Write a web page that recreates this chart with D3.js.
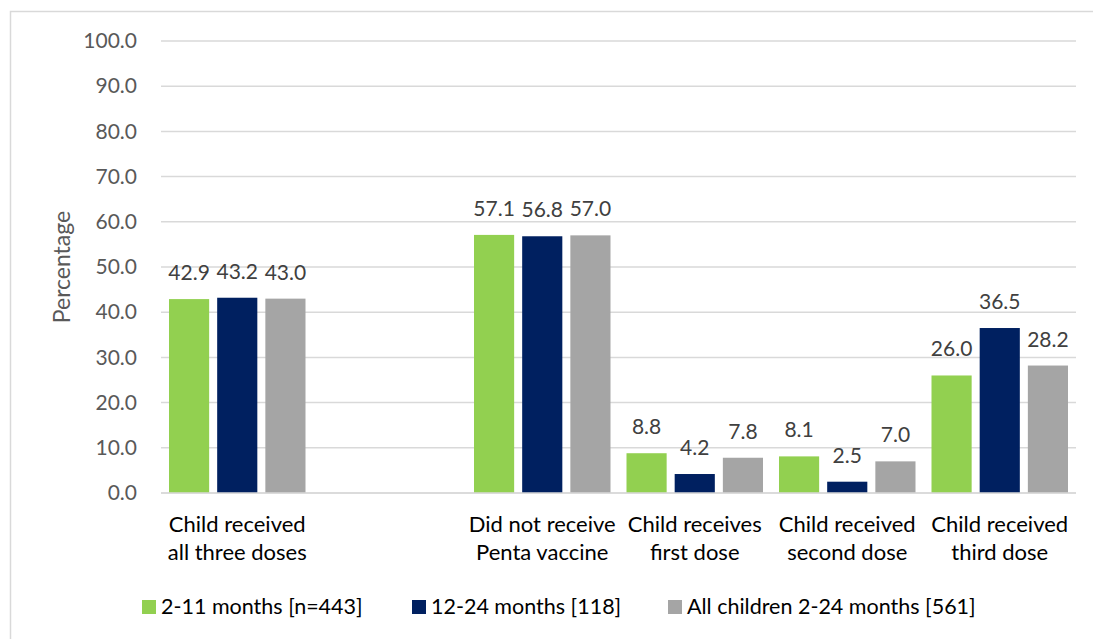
<!DOCTYPE html>
<html>
<head>
<meta charset="utf-8">
<script src="https://cdn.jsdelivr.net/npm/d3@7"></script>
<style>
  body { margin: 0; background: #fff; }
  svg { display: block; font-family: Lato, "Open Sans", sans-serif; }
</style>
</head>
<body>
<div id="chart"></div>
<script>
"use strict";

// categories (second slot is an empty spacer, as in the original)
var categories = [
    ["Child received", "all three doses"],
    ["", ""],
    ["Did not receive", "Penta vaccine"],
    ["Child receives", "first dose"],
    ["Child received", "second dose"],
    ["Child received", "third dose"]
];

var seriesNames = ["2-11 months [n=443]", "12-24 months [118]", "All children 2-24 months [561]"];
var seriesColors = ["#92d050", "#002060", "#a5a5a5"];

// values per series, null where the slot is empty
var months2to11 = [42.9, null, 57.1, 8.8, 8.1, 26.0];
var months12to24 = [43.2, null, 56.8, 4.2, 2.5, 36.5];
var allChildren = [43.0, null, 57.0, 7.8, 7.0, 28.2];

var yTicks = [0, 10, 20, 30, 40, 50, 60, 70, 80, 90, 100];

var width = 1093, height = 639;
var plot = { left: 161, right: 1076, top: 41, bottom: 493 };

var svg = d3.select("#chart").append("svg")
    .attr("width", width)
    .attr("height", height);

// chart border
svg.append("rect")
    .attr("x", 10.5).attr("y", 11.5)
    .attr("width", width + 20).attr("height", height + 20)
    .attr("fill", "none")
    .attr("stroke", "#d9d9d9")
    .attr("stroke-width", 1.5);

var x0 = d3.scaleBand()
    .domain(d3.range(categories.length))
    .range([plot.left, plot.right])
    .padding(0);

var x1 = d3.scaleBand()
    .domain(d3.range(seriesNames.length))
    .range([8, x0.bandwidth() - 8])
    .paddingInner(1 / 6)
    .paddingOuter(0);

var y = d3.scaleLinear()
    .domain([0, 100])
    .range([plot.bottom, plot.top]);

// gridlines
svg.append("g").selectAll("line")
    .data(yTicks)
    .enter().append("line")
    .attr("x1", plot.left).attr("x2", plot.right)
    .attr("y1", function(d) { return y(d); })
    .attr("y2", function(d) { return y(d); })
    .attr("stroke", "#d9d9d9")
    .attr("stroke-width", 1.5);

// y axis labels
var yAxis = d3.axisLeft(y)
    .tickValues(yTicks)
    .tickFormat(d3.format(".1f"))
    .tickSize(0)
    .tickPadding(0);

var yg = svg.append("g")
    .attr("transform", "translate(137,0)")
    .call(yAxis);
yg.select(".domain").remove();
yg.selectAll("text")
    .attr("fill", "#595959")
    .style("font-size", "21px")
    .style("font-family", "Lato, 'Open Sans', sans-serif");

// y axis title
svg.append("text")
    .attr("transform", "translate(70,267) rotate(-90)")
    .attr("text-anchor", "middle")
    .attr("fill", "#595959")
    .style("font-size", "23px")
    .text("Percentage");

var series = [months2to11, months12to24, allChildren];

var groups = svg.append("g").selectAll("g")
    .data(series)
    .enter().append("g")
    .attr("fill", function(d, i) { return seriesColors[i]; });

groups.each(function(values, si) {
    var g = d3.select(this);
    var pts = values.map(function(v, ci) { return { v: v, ci: ci }; })
        .filter(function(d) { return d.v !== null; });

    g.selectAll("rect")
        .data(pts)
        .enter().append("rect")
        .attr("x", function(d) { return x0(d.ci) + x1(si); })
        .attr("width", x1.bandwidth())
        .attr("y", function(d) { return y(d.v); })
        .attr("height", function(d) { return y(0) - y(d.v); });

    g.selectAll("text")
        .data(pts)
        .enter().append("text")
        .attr("x", function(d) { return x0(d.ci) + x1(si) + x1.bandwidth() / 2; })
        .attr("y", function(d) { return y(d.v) - 19; })
        .attr("text-anchor", "middle")
        .attr("fill", "#404040")
        .style("font-size", "21px")
        .text(function(d) { return d3.format(".1f")(d.v); });
});

// x axis line
svg.append("line")
    .attr("x1", plot.left).attr("x2", plot.right)
    .attr("y1", y(0)).attr("y2", y(0))
    .attr("stroke", "#d9d9d9")
    .attr("stroke-width", 1.5);

// category labels
var cats = svg.append("g").selectAll("text")
    .data(categories)
    .enter().append("text")
    .attr("text-anchor", "middle")
    .attr("fill", "#000")
    .style("font-size", "22px");

cats.each(function(lines, i) {
    var t = d3.select(this);
    lines.forEach(function(line, li) {
        t.append("tspan")
            .attr("x", x0(i) + x0.bandwidth() / 2)
            .attr("y", 532 + li * 28)
            .text(line);
    });
});

// legend
var legendX = [142, 412, 668];
var legend = svg.append("g").selectAll("g")
    .data(seriesNames)
    .enter().append("g")
    .attr("transform", function(d, i) { return "translate(" + legendX[i] + ",600)"; });

legend.append("rect")
    .attr("width", 14).attr("height", 14)
    .attr("fill", function(d, i) { return seriesColors[i]; });

legend.append("text")
    .attr("x", 19).attr("y", 14)
    .attr("fill", "#000")
    .style("font-size", "21.5px")
    .text(function(d) { return d; });
</script>
</body>
</html>
